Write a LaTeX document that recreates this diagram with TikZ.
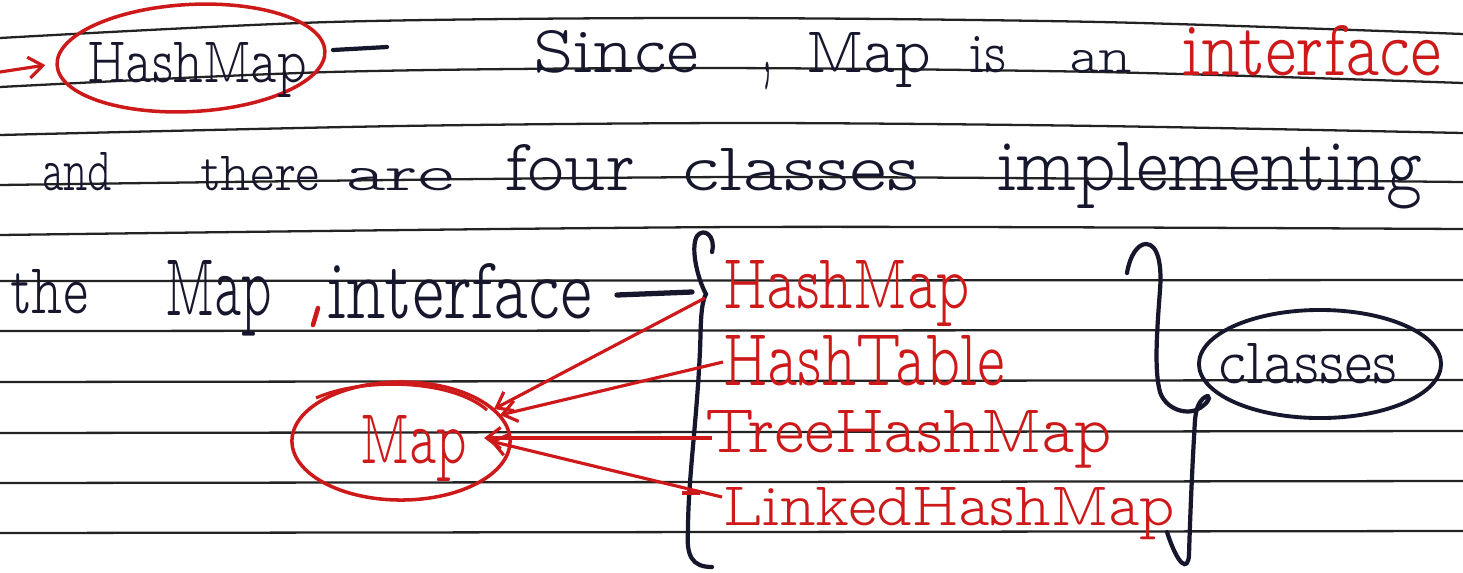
\documentclass[tikz,border=0pt]{standalone}
\usepackage{fontspec}
\setmainfont{lmmonoproplt10-regular.otf}
\usetikzlibrary{shapes.geometric,arrows.meta}
\newlength\px
\setlength\px{0.01cm}
\newcommand\hw[3]{\resizebox{#1\px}{#2\px}{#3}}
\definecolor{ink}{RGB}{22,22,45}
\definecolor{pen}{RGB}{205,25,25}
\definecolor{rulec}{RGB}{35,35,35}
\begin{document}
\begin{tikzpicture}[x=0.01cm,y=-0.01cm,
  txt/.style={inner sep=0pt,outer sep=0pt,anchor=base west,text=ink},
  rtxt/.style={txt,text=pen},
  rule/.style={draw=rulec,line width=0.65pt},
  redline/.style={draw=pen,line width=0.9pt},
  inkline/.style={draw=ink,line width=1.2pt,line cap=round},
  oval/.style={ellipse,inner sep=0pt,line width=1pt},
  tipr/.style={-{Straight Barb[length=4pt,width=6pt]}}]
\useasboundingbox (0,0) rectangle (1463,572);
\fill[white] (0,0) rectangle (1463,572);
% ruled lines
\draw[rule] plot[smooth] coordinates {(0,38) (330,22) (700,18) (1100,22) (1463,34)};
\draw[rule] plot[smooth] coordinates {(0,87) (330,72) (700,68) (1100,72) (1463,83)};
\draw[rule] plot[smooth] coordinates {(0,135) (400,126) (750,123) (1100,126) (1463,133)};
\draw[rule] plot[smooth] coordinates {(0,185) (740,177) (1463,182)};
\draw[rule] plot[smooth] coordinates {(0,235) (740,227) (1463,229)};
\draw[rule] (0,281) -- (1463,280);
\draw[rule] (0,331) -- (1463,330);
\draw[rule] (0,382) -- (1463,380);
\draw[rule] (0,433) -- (1463,431);
\draw[rule] (0,483) -- (1463,481);
\draw[rule] (0,533) -- (1463,531);

% first line
\coordinate (c0) at (0,72);
\node[oval,draw=pen,minimum width=2.68cm,minimum height=1.07cm,rotate=3] (hmc) at (191,58) {};
\draw[redline,tipr] (c0) -- ([xshift=-0.1cm]hmc.west);
\node[txt] (t1) at (87,82) {\hw{220}{40}{HashMap}};
\coordinate (d1a) at (333,50);
\coordinate (d1b) at (387,47);
\draw[inkline] (d1a) -- (d1b);
\node[txt] (w1) at (533,72) {\hw{166}{42}{Since}};
\node[txt] (w2) at (762,72) {\resizebox*{10\px}{28\px}{,}};
\node[txt] (w3) at (806,72) {\hw{125}{40}{Map}};
\node[txt] (w4) at (969,72) {\hw{38}{36}{is}};
\node[txt] (w5) at (1069,72) {\hw{63}{22}{an}};
\node[rtxt] (w6) at (1182,75) {\hw{260}{50}{interface}};

% second line
\node[txt] (v1) at (42,190) {\hw{70}{38}{and}};
\node[txt] (v2) at (200,190) {\hw{120}{34}{there}};
\node[txt] (v3) at (345,190) {\hw{110}{22}{are}};
\node[txt] (v4) at (505,190) {\hw{130}{46}{four}};
\node[txt] (v5) at (682,190) {\hw{238}{42}{classes}};
\node[txt] (v6) at (997,190) {\hw{425}{48}{implementing}};

% third line
\node[txt] (u1) at (10,313) {\hw{78}{44}{the}};
\node[txt] (u2) at (165,315) {\hw{107}{55}{Map}};
\coordinate (cm1) at (318,308);
\coordinate (cm2) at (313,325);
\draw[redline,line width=1.3pt,line cap=round] (cm1) -- (cm2);
\node[txt] (u3) at (327,318) {\hw{265}{55}{interface}};
\coordinate (d2a) at (617,295);
\coordinate (d2b) at (692,292);
\draw[inkline,line width=1.5pt] (d2a) -- (d2b);

% left brace
\draw[inkline] (712,252) .. controls (716,236) and (704,227) .. (697,236)
  .. controls (690,248) and (698,280) .. (706,294)
  .. controls (700,305) and (701,330) .. (700,350)
  .. controls (697,420) and (688,480) .. (688,530)
  .. controls (686,556) and (692,567) .. (712,567);

% red list
\node[rtxt] (i1) at (723,308) {\hw{247}{48}{HashMap}};
\node[rtxt] (i2) at (723,385) {\hw{282}{50}{HashTable}};
\node[rtxt] (i3) at (705,452) {\hw{407}{42}{TreeHashMap}};
\node[rtxt] (i4) at (723,525) {\hw{452}{38}{LinkedHashMap}};
\coordinate (q4) at (682,493);
\coordinate (q4b) at (700,493);
\draw[redline] (q4) -- (q4b);

% Map oval
\node[oval,draw=pen,minimum width=2.18cm,minimum height=1.18cm] (mapc) at (401,441) {};
\draw[redline] (316,398) .. controls (360,378) and (450,378) .. (487,410);
\node[rtxt] (mt) at (360,463) {\hw{107}{48}{Map}};

% arrows to Map
\coordinate (s1) at (705,298);
\coordinate (e1) at (494,409);
\coordinate (s2) at (723,362);
\coordinate (e2) at (500,415);
\coordinate (s3) at (712,438);
\coordinate (e3) at (484,438);
\coordinate (s4) at (722,497);
\coordinate (e4) at (490,441);
\draw[redline,tipr] (s1) -- (e1);
\draw[redline,tipr] (s2) -- (e2);
\draw[redline,tipr] (s3) -- (e3);
\draw[redline,tipr] (s4) -- (e4);

% right brace
\draw[inkline] (1127,273) .. controls (1130,255) and (1138,244) .. (1146,244)
  .. controls (1158,244) and (1162,265) .. (1160,290)
  .. controls (1157,330) and (1154,370) .. (1160,392)
  .. controls (1166,410) and (1188,416) .. (1200,408)
  .. controls (1212,400) and (1210,394) .. (1205,397)
  .. controls (1198,402) and (1196,410) .. (1195,420)
  .. controls (1192,470) and (1190,520) .. (1189,555)
  .. controls (1188,572) and (1178,566) .. (1167,532);

% classes oval
\node[oval,draw=ink,line width=1.1pt,minimum width=2.42cm,minimum height=1.08cm] (clc) at (1320,364) {};
\node[txt] (ct) at (1218,383) {\hw{180}{40}{classes}};
\end{tikzpicture}
\end{document}
